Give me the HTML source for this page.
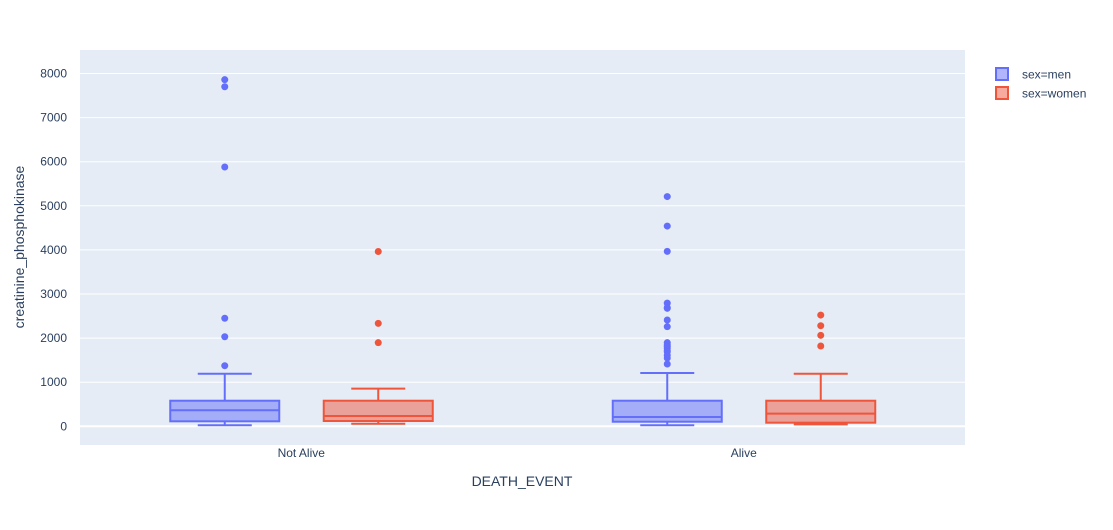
<!DOCTYPE html>
<html><head><meta charset="utf-8"><style>
body{margin:0;background:#fff;font-family:"Liberation Sans",Arial,sans-serif}
svg text{font-family:"Liberation Sans",Arial,sans-serif;fill:#2a3f5f}
</style></head><body>
<svg id="chart" width="1113" height="525" xmlns="http://www.w3.org/2000/svg">
<rect x="80" y="50" width="885" height="395" fill="#E5ECF6"/>
<g id="grid"></g><g id="boxes"></g><g id="ticks"></g>
<text transform="translate(24,247) rotate(-90)" text-anchor="middle" font-size="14">creatinine_phosphokinase</text>
<text x="522" y="486" text-anchor="middle" font-size="14">DEATH_EVENT</text>
<g>
<g>
<rect x="996" y="68" width="12" height="12" fill="rgba(99,110,250,0.5)" stroke="#636efa" stroke-width="2"/>
<text x="1022" y="78.5" font-size="12">sex=men</text></g>
<g>
<rect x="996" y="87" width="12" height="12" fill="rgba(239,85,59,0.5)" stroke="#ef553b" stroke-width="2"/>
<text x="1022" y="97.5" font-size="12">sex=women</text></g>
</g>
</svg>
<script>
const categories=["Not Alive","Alive"];
const yTicks=[0,1000,2000,3000,4000,5000,6000,7000,8000];
const menStats=[[23,113,363,580,1193],[23,104,211,580,1208]];
const womenStats=[[59,120,234,580,853],[45,82,286,580,1193]];
const menOutliers=[[1374,2030,2450,5880,7700,7860],[5209,4540,3966,2794,2695,2675,2410,2259,1896,1846,1808,1768,1720,1688,1610,1548,1413]];
const womenOutliers=[[1896,2334,3964],[1821,2063,2281,2522]];
const NS="http://www.w3.org/2000/svg";
const y=v=>426.3-v*0.0441;
const x=i=>80+885/categories.length*(i+0.5);
function mk(tag,attrs,parent){const e=document.createElementNS(NS,tag);for(const k in attrs)e.setAttribute(k,attrs[k]);parent.appendChild(e);return e;}
const grid=document.getElementById('grid'),ticks=document.getElementById('ticks'),boxes=document.getElementById('boxes');
yTicks.forEach(t=>{
 const l=mk('line',{x1:80,x2:965,y1:y(t),y2:y(t),stroke:'#fff','stroke-width':t===0?2:1},grid);
 
 
 const tx=mk('text',{x:67,y:y(t)+4,'text-anchor':'end','font-size':12},ticks);
 tx.textContent=t;
 
 
});
categories.forEach((c,i)=>{
 const tx=mk('text',{x:x(i),y:457,'text-anchor':'middle','font-size':12},ticks);
 tx.textContent=c;
 
 
});
function drawBox(s,outs,cx,col,fill,name){
 const g=mk('g',{},boxes);
 
 
 const hw=54.5,ww=27;
 mk('line',{x1:cx,x2:cx,y1:y(s[3]),y2:y(s[4]),stroke:col,'stroke-width':2},g);
 mk('line',{x1:cx,x2:cx,y1:y(s[1]),y2:y(s[0]),stroke:col,'stroke-width':2},g);
 mk('line',{x1:cx-ww,x2:cx+ww,y1:y(s[4]),y2:y(s[4]),stroke:col,'stroke-width':2},g);
 mk('line',{x1:cx-ww,x2:cx+ww,y1:y(s[0]),y2:y(s[0]),stroke:col,'stroke-width':2},g);
 mk('rect',{x:cx-hw,y:y(s[3]),width:2*hw,height:y(s[1])-y(s[3]),fill:fill,stroke:col,'stroke-width':2},g);
 mk('line',{x1:cx-hw,x2:cx+hw,y1:y(s[2]),y2:y(s[2]),stroke:col,'stroke-width':2},g);
 outs.forEach(o=>{
  const p=mk('circle',{cx:cx,cy:y(o),r:3.5,fill:col},g);
  
  
 });
}
categories.forEach((c,i)=>{
 drawBox(menStats[i],menOutliers[i],x(i)-76.5,'#636efa','rgba(99,110,250,0.5)','box-men-'+i);
 drawBox(womenStats[i],womenOutliers[i],x(i)+77,'#ef553b','rgba(239,85,59,0.5)','box-women-'+i);
});
</script>
</body></html>
